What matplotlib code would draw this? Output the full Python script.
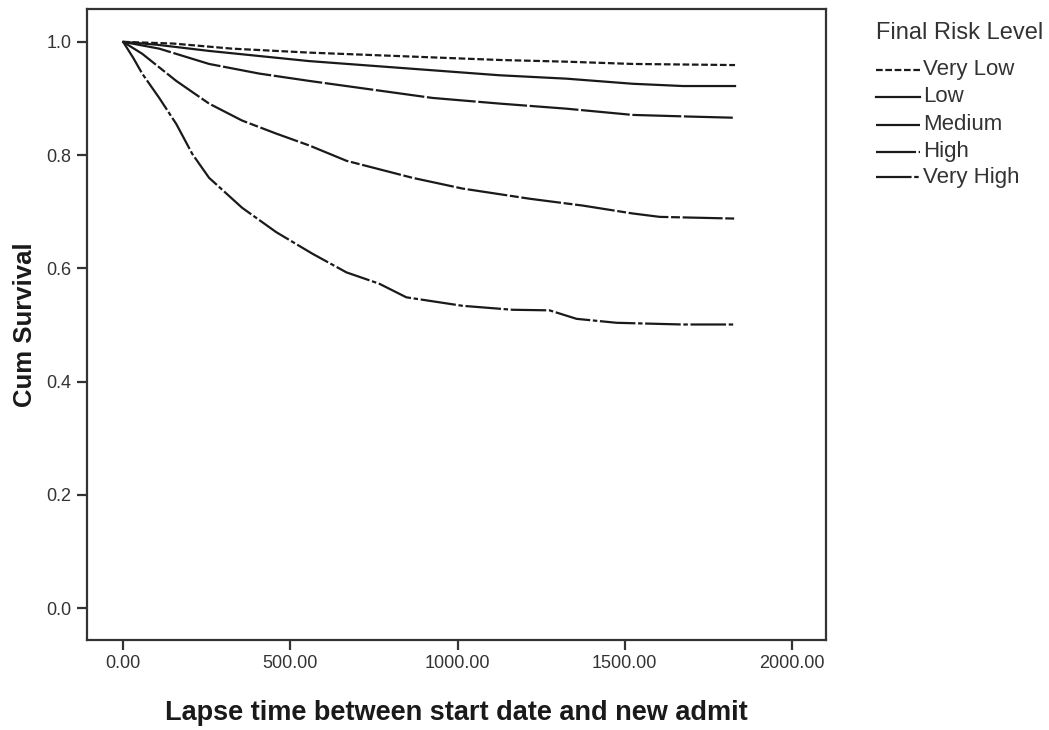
import matplotlib
matplotlib.use("Agg")
import matplotlib.pyplot as plt
from matplotlib.lines import Line2D

plt.rcParams['font.family'] = ['Liberation Sans', 'DejaVu Sans']

groups = ["Very Low", "Low", "Medium", "High", "Very High"]

t_very_low = [0, 150, 326, 557, 1126, 1326, 1524, 1830]
s_very_low = [1.0, 0.997, 0.988, 0.981, 0.968, 0.965, 0.961, 0.959]

t_low = [0, 100, 257, 557, 1126, 1326, 1524, 1674, 1830]
s_low = [1.0, 0.995, 0.984, 0.966, 0.941, 0.935, 0.926, 0.922, 0.922]

t_medium = [0, 108, 257, 407, 557, 925, 1126, 1326, 1524, 1700, 1830]
s_medium = [1.0, 0.988, 0.961, 0.944, 0.931, 0.901, 0.891, 0.882, 0.871, 0.868, 0.866]

t_high = [0, 57, 159, 257, 356, 458, 557, 668, 865, 1015, 1216, 1374, 1524, 1605, 1830]
s_high = [1.0, 0.979, 0.931, 0.891, 0.861, 0.838, 0.817, 0.790, 0.760, 0.741, 0.723, 0.711, 0.697, 0.691, 0.688]

t_very_high = [0, 30, 57, 108, 159, 207, 257, 356, 458, 566, 668, 766, 847, 1015, 1165, 1275, 1356, 1476, 1674, 1830]
s_very_high = [1.0, 0.972, 0.944, 0.901, 0.855, 0.802, 0.760, 0.707, 0.664, 0.626, 0.593, 0.573, 0.549, 0.534, 0.527, 0.526, 0.511, 0.504, 0.501, 0.501]

x_ticks = [0, 500, 1000, 1500, 2000]
y_ticks = [0.0, 0.2, 0.4, 0.6, 0.8, 1.0]

series = [
    (t_very_low, s_very_low, (0, (3, 1.2))),
    (t_low, s_low, '-'),
    (t_medium, s_medium, (0, (22, 1.2))),
    (t_high, s_high, (0, (18, 1.2, 4, 1.2))),
    (t_very_high, s_very_high, (0, (16, 1.2, 2, 1.2))),
]

W, H = 1049, 730
fig = plt.figure(figsize=(W / 100, H / 100), dpi=100)
ax = fig.add_axes([87 / W, 1 - 640 / H, (826 - 87) / W, (640 - 9) / H])

dark = '#1a1a1a'
for (t, s, ls), name in zip(series, groups):
    ax.plot(t, s, color=dark, lw=1.6, linestyle=ls, label=name)

ax.set_xlim(-108, 2102)
ax.set_ylim(-0.056, 1.058)
ax.set_xticks(x_ticks)
ax.set_xticklabels([f"{v:.2f}" for v in x_ticks])
ax.set_yticks(y_ticks)
ax.set_yticklabels([f"{v:.1f}" for v in y_ticks])
for sp in ax.spines.values():
    sp.set_linewidth(1.6)
    sp.set_color('#333333')
ax.tick_params(axis='both', direction='out', length=7, width=1.6, color='#333333',
               labelsize=13, labelcolor='#333333', pad=4)

ax.set_xlabel("Lapse time between start date and new admit", fontsize=19.5, fontweight='bold',
              color='#1a1a1a', labelpad=20)
ax.set_ylabel("Cum Survival", fontsize=18.5, fontweight='bold', color='#1a1a1a', labelpad=7)

# legend drawn in figure pixel coordinates
fig.text(876 / W, 1 - 33 / H, "Final Risk Level", fontsize=17, color='#333333',
         ha='left', va='center')
entry_y = [70, 97, 125, 152, 177]
for (_, _, ls), name, yp in zip(series, groups, entry_y):
    yf = 1 - yp / H
    fig.add_artist(Line2D([876 / W, 920 / W], [yf, yf], color=dark, lw=1.6,
                          linestyle=ls, transform=fig.transFigure))
    fig.text(923 / W, yf, name, fontsize=16, color='#333333', ha='left', va='center')

fig.savefig("out.png", dpi=100)
